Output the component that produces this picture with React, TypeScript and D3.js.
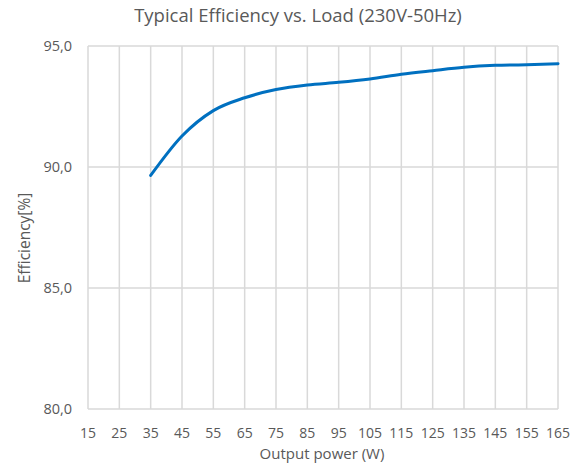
import React, { useEffect, useRef } from 'react';
import * as d3 from 'd3';

// Output power (W) and efficiency (%)
const powerW = [35, 45, 55, 65, 75, 85, 95, 105, 115, 125, 135, 145, 155, 165];
const efficiency = [89.65, 91.28, 92.33, 92.86, 93.2, 93.39, 93.5, 93.64, 93.83, 93.98, 94.12, 94.2, 94.23, 94.27];
const xTicks = [15, 25, 35, 45, 55, 65, 75, 85, 95, 105, 115, 125, 135, 145, 155, 165];
const yTicks = [80, 85, 90, 95];

const App = () => {
  const ref = useRef<SVGSVGElement>(null);

  useEffect(() => {
    if (!ref.current) return;
    const svg = d3.select(ref.current);
    svg.selectAll('*').remove();

    const width = 583;
    const height = 466;
    const margin = { top: 46, right: 25, bottom: 57, left: 88 };
    const font = "'Open Sans', sans-serif";
    const textColor = '#595959';
    const gridColor = '#d9d9d9';

    const x = d3.scaleLinear().domain([15, 165]).range([margin.left, width - margin.right]);
    const y = d3.scaleLinear().domain([80, 95]).range([height - margin.bottom, margin.top]);

    // ------- Grid -------
    svg
      .append('g')
      .selectAll('line')
      .data(xTicks)
      .enter()
      .append('line')
      .attr('x1', (d) => x(d))
      .attr('x2', (d) => x(d))
      .attr('y1', y(80))
      .attr('y2', y(95))
      .attr('stroke', gridColor)
      .attr('stroke-width', 1.5);

    svg
      .append('g')
      .selectAll('line')
      .data(yTicks)
      .enter()
      .append('line')
      .attr('x1', x(15))
      .attr('x2', x(165))
      .attr('y1', (d) => y(d))
      .attr('y2', (d) => y(d))
      .attr('stroke', gridColor)
      .attr('stroke-width', 1.5);

    // ------- Tick labels -------
    svg
      .append('g')
      .selectAll('text')
      .data(yTicks)
      .enter()
      .append('text')
      .attr('x', margin.left - 16)
      .attr('y', (d) => y(d))
      .attr('dy', '0.35em')
      .attr('text-anchor', 'end')
      .attr('font-family', font)
      .attr('font-size', 14.5)
      .attr('fill', textColor)
      .text((d) => d.toFixed(1).replace('.', ','));

    svg
      .append('g')
      .selectAll('text')
      .data(xTicks)
      .enter()
      .append('text')
      .attr('x', (d) => x(d))
      .attr('y', y(80) + 24)
      .attr('dy', '0.35em')
      .attr('text-anchor', 'middle')
      .attr('font-family', font)
      .attr('font-size', 14)
      .attr('fill', textColor)
      .text((d) => String(d));

    // ------- Titles -------
    svg
      .append('text')
      .attr('x', 298)
      .attr('y', 16)
      .attr('dy', '0.35em')
      .attr('text-anchor', 'middle')
      .attr('font-family', font)
      .attr('font-size', 18.5)
      .attr('fill', textColor)
      .text('Typical Efficiency vs. Load (230V-50Hz)');

    svg
      .append('text')
      .attr('x', 322)
      .attr('y', 454)
      .attr('dy', '0.35em')
      .attr('text-anchor', 'middle')
      .attr('font-family', font)
      .attr('font-size', 15)
      .attr('fill', textColor)
      .text('Output power (W)');

    svg
      .append('text')
      .attr('transform', 'translate(25,238) rotate(-90)')
      .attr('dy', '0.35em')
      .attr('text-anchor', 'middle')
      .attr('font-family', font)
      .attr('font-size', 15.5)
      .attr('fill', textColor)
      .text('Efficiency[%]');

    // ------- Line -------
    const line = d3
      .line<number>()
      .x((_, i) => x(powerW[i]))
      .y((d) => y(d))
      .curve(d3.curveMonotoneX);

    svg
      .append('path')
      .datum(efficiency)
      .attr('fill', 'none')
      .attr('stroke', '#0070c0')
      .attr('stroke-width', 3)
      .attr('stroke-linecap', 'round')
      .attr('d', line);
  }, []);

  return <svg ref={ref} width={583} height={466} style={{ display: 'block', position: 'absolute', left: 0, top: 0, background: '#fff' }} />;
};

export default App;
